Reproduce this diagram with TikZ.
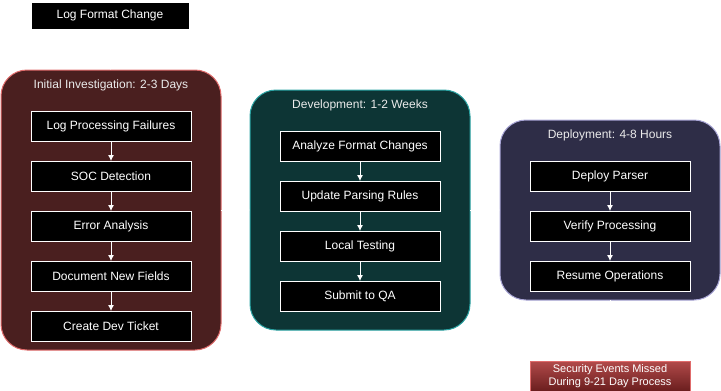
\documentclass[tikz,border=0pt]{standalone}
\usepackage{fontspec}
\setmainfont{Liberation Sans}
\usetikzlibrary{arrows.meta,positioning}
\definecolor{invfill}{HTML}{4A1F1F}
\definecolor{invline}{HTML}{E06B6B}
\definecolor{devfill}{HTML}{0D3535}
\definecolor{devline}{HTML}{2BA3A3}
\definecolor{depfill}{HTML}{2E2D47}
\definecolor{depline}{HTML}{A9A6D6}
\definecolor{alerttop}{HTML}{B24A4A}
\definecolor{alertbot}{HTML}{6A1E1E}
\tikzset{
  stepbox/.style={draw=white,fill=black,line width=0.8pt,minimum width=160pt,minimum height=30pt,inner sep=0pt,outer sep=0pt,font=\fontsize{12}{14}\selectfont,text=white},
  phase/.style={draw=#1line,fill=#1fill,line width=1pt,rounded corners=26pt,minimum width=220pt,inner sep=0pt,outer sep=0pt},
  phaselabel/.style={font=\fontsize{12}{14}\selectfont,text=white!92!black},
  flow/.style={-{Latex[length=6pt,width=6pt]},line width=0.8pt,draw=white},
  hidden/.style={-{Latex[length=6pt,width=6pt]},line width=0.8pt,draw=white}
}
\begin{document}
\begin{tikzpicture}[x=1pt,y=-1pt,node distance=20pt]
  \useasboundingbox (0,0) rectangle (721,391);

  \node[stepbox,minimum width=158pt,minimum height=27pt] (change) at (110,15.5) {Log Format Change};

  % phase frames
  \node[phase=inv,minimum height=280pt] (inv) at (111,210) {};
  \node[phase=dev,minimum height=240pt] (dev) at (360,210) {};
  \node[phase=dep,minimum height=180pt] (dep) at (610,210) {};

  \node[phaselabel] (invlabel) at (111,85) {Initial Investigation: 2-3 Days};
  \node[phaselabel] (devlabel) at (360,105) {Development: 1-2 Weeks};
  \node[phaselabel] (deplabel) at (610,135) {Deployment: 4-8 Hours};

  % investigation
  \node[stepbox] (failures) at (111,126) {Log Processing Failures};
  \node[stepbox,below=of failures] (soc) {SOC Detection};
  \node[stepbox,below=of soc] (error) {Error Analysis};
  \node[stepbox,below=of error] (fields) {Document New Fields};
  \node[stepbox,below=of fields] (ticket) {Create Dev Ticket};

  % development
  \node[stepbox] (analyze) at (360,146) {Analyze Format Changes};
  \node[stepbox,below=of analyze] (rules) {Update Parsing Rules};
  \node[stepbox,below=of rules] (testing) {Local Testing};
  \node[stepbox,below=of testing] (qa) {Submit to QA};

  % deployment
  \node[stepbox] (parser) at (610,176) {Deploy Parser};
  \node[stepbox,below=of parser] (verify) {Verify Processing};
  \node[stepbox,below=of verify] (resume) {Resume Operations};

  \node[stepbox,draw=invline,top color=alerttop,bottom color=alertbot,font=\fontsize{11}{12.5}\selectfont,align=center] (missed) at (610,376) {Security Events Missed\\During 9-21 Day Process};

  \draw[flow] (failures) -- (soc);
  \draw[flow] (soc) -- (error);
  \draw[flow] (error) -- (fields);
  \draw[flow] (fields) -- (ticket);
  \draw[flow] (analyze) -- (rules);
  \draw[flow] (rules) -- (testing);
  \draw[flow] (testing) -- (qa);
  \draw[flow] (parser) -- (verify);
  \draw[flow] (verify) -- (resume);

  \draw[hidden] (change) -- (inv);
  \draw[hidden] (inv) -- (dev);
  \draw[hidden] (dev) -- (dep);
  \draw[hidden] (dep) -- (missed);
\end{tikzpicture}
\end{document}
